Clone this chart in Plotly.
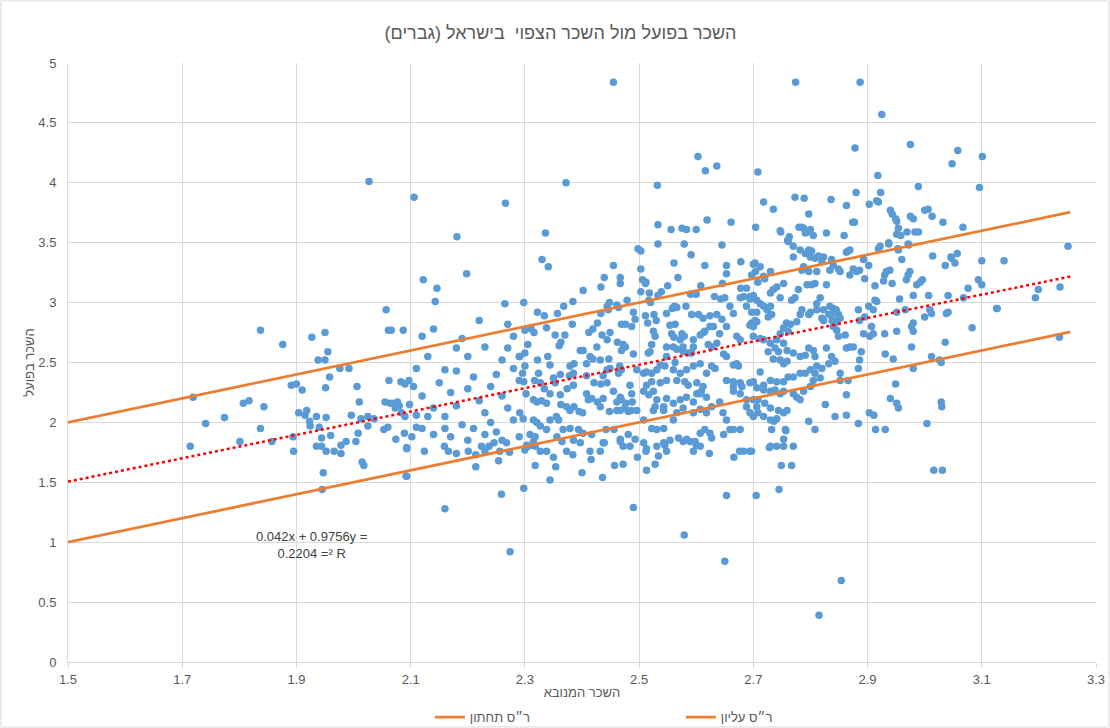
import plotly.graph_objects as go

points = [
    (1.837,2.77),(1.876,2.65),(1.927,2.71),(1.950,2.75),(1.955,2.59),(1.938,2.52),(1.950,2.52),(2.057,2.94),
    (2.061,2.77),(2.066,2.77),(2.087,2.77),(1.976,2.45),(1.992,2.45),(1.958,2.38),(1.951,2.29),(1.891,2.31),
    (1.900,2.32),(1.910,2.27),(1.719,2.21),(1.807,2.16),(1.817,2.18),(1.843,2.13),(1.741,1.99),(1.774,2.04),
    (1.837,1.95),(1.714,1.80),(1.801,1.84),(1.857,1.84),(1.894,1.88),(1.895,1.76),(1.904,2.08),(1.918,2.10),
    (1.915,2.06),(1.923,2.01),(1.924,1.97),(1.935,2.05),(1.952,2.04),(1.940,1.96),(1.944,1.87),(1.935,1.80),
    (1.944,1.80),(1.952,1.76),(1.960,1.89),(1.966,1.76),(1.978,1.74),(1.978,1.81),(1.987,1.84),(1.947,1.58),
    (1.945,1.44),(1.996,2.06),(2.006,2.30),(2.010,2.17),(2.004,1.84),(2.008,1.91),(2.015,1.67),(2.018,1.64),
    (2.013,2.03),(2.025,2.05),(2.025,1.97),(2.036,2.03),(2.053,1.94),(2.060,1.96),(2.055,2.17),(2.064,2.16),
    (2.070,2.16),(2.077,2.17),(2.073,2.12),(2.080,2.14),(2.062,2.35),(2.083,2.34),(2.090,2.32),(2.097,2.35),
    (2.105,2.30),(2.074,1.86),(2.089,1.91),(2.102,1.88),(2.093,1.79),(2.093,1.55),(2.084,2.08),(2.090,2.05),
    (2.098,2.15),(2.110,2.06),(2.110,1.96),
    (2.027,4.01),(2.106,3.88),(2.266,3.83),(2.181,3.55),(2.198,3.24),(2.122,3.19),(2.146,3.12),(2.143,3.01),
    (2.265,2.99),(2.298,3.00),(2.372,4.00),(2.455,4.84),(2.336,3.58),(2.330,3.36),(2.341,3.30),(2.402,3.10),
    (2.384,3.01),(2.368,2.97),(2.433,3.13),(2.439,3.21),(2.455,3.31),(2.467,3.21),(2.467,3.16),(2.479,3.02),
    (2.448,3.00),(2.498,3.45),(2.503,3.43),(2.503,3.28),(2.506,3.19),(2.511,3.16),(2.503,3.09),(2.518,3.08),
    (2.520,3.00),(2.532,3.98),(2.533,3.65),(2.533,3.49),(2.556,3.61),(2.575,3.62),(2.583,3.61),(2.600,3.61),
    (2.579,3.49),(2.591,3.40),(2.561,3.33),(2.568,3.21),(2.550,3.14),(2.539,3.09),(2.533,3.06),(2.603,4.22),
    (2.616,4.10),(2.636,4.14),(2.619,3.69),(2.661,3.67),(2.645,3.48),(2.615,3.31),(2.653,3.31),(2.653,3.24),
    (2.678,3.34),(2.700,3.32),(2.704,3.26),(2.704,3.63),(2.708,4.09),(2.608,3.14),(2.590,3.07),(2.600,3.07),
    (2.646,3.16),(2.632,3.05),(2.643,3.03),(2.650,3.04),(2.678,3.12),(2.688,3.12),(2.677,3.04),(2.683,3.05),
    (2.694,3.03),(2.700,3.06),(2.558,2.95),(2.562,2.97),(2.582,2.97),
    (2.512,3.17),(2.517,3.02),(2.444,2.97),(2.461,2.98),(2.464,2.96),(2.446,2.94),(2.433,2.91),(2.357,2.91),
    (2.322,2.92),(2.334,2.89),(2.300,2.77),(2.311,2.78),(2.316,2.75),(2.338,2.79),(2.353,2.73),(2.363,2.67),
    (2.360,2.64),(2.370,2.73),(2.383,2.82),(2.412,2.75),(2.419,2.78),(2.427,2.83),(2.435,2.73),(2.449,2.75),
    (2.444,2.69),(2.462,2.67),(2.469,2.82),(2.476,2.82),(2.476,2.63),(2.472,2.65),(2.469,2.60),(2.426,2.63),
    (2.397,2.60),(2.402,2.60),(2.305,2.65),(2.340,2.55),(2.291,2.55),(2.300,2.58),(2.322,2.52),(2.300,2.47),
    (2.296,2.41),(2.344,2.48),(2.386,2.49),(2.379,2.47),(2.414,2.55),(2.419,2.53),(2.408,2.49),(2.432,2.52),
    (2.447,2.53),(2.449,2.45),(2.466,2.47),(2.469,2.44),(2.464,2.41),(2.490,2.57),(2.385,2.41),(2.378,2.39),
    (2.408,2.39),(2.437,2.39),(2.444,2.44),(2.324,2.41),(2.317,2.35),(2.327,2.33),(2.350,2.37),(2.362,2.40),
    (2.334,2.28),(2.344,2.24),(2.353,2.33),(2.298,2.34),(2.302,2.24),(2.315,2.19),(2.321,2.17),(2.329,2.18),
    (2.338,2.16),(2.362,2.23),(2.374,2.28),(2.385,2.31),(2.363,2.15),(2.373,2.13),(2.379,2.10),(2.386,2.13),
    (2.395,2.09),(2.401,2.08),(2.408,2.24),(2.411,2.19),(2.417,2.20),(2.427,2.17),(2.437,2.20),(2.432,2.13),
    (2.421,2.33),(2.433,2.32),(2.444,2.33),(2.455,2.26),(2.461,2.17),(2.467,2.21),(2.469,2.19),(2.477,2.16),
    (2.448,2.09),(2.461,2.10),(2.467,2.10),(2.475,2.12),(2.481,2.09),(2.486,2.10),(2.484,2.31),(2.487,2.24),
    (2.488,2.17),(2.291,2.08),(2.297,2.03),(2.315,2.02),(2.321,2.00),(2.327,1.97),(2.338,1.94),(2.344,2.02),
    (2.355,2.05),(2.359,2.02),(2.367,1.94),(2.379,1.95),(2.394,1.94),(2.309,1.90),(2.318,1.88),(2.315,1.84),
    (2.303,1.81),(2.318,1.80),(2.356,1.88),(2.365,1.84),(2.385,1.85),(2.402,1.91),(2.417,1.90),(2.437,1.83),
    (2.442,1.94),(2.456,1.94),(2.467,1.86),(2.472,1.80),(2.484,1.80),(2.481,1.90),(2.493,1.86),
    (2.526,2.90),(2.511,2.89),(2.530,2.85),(2.515,2.83),(2.490,2.92),(2.493,2.86),(2.487,2.80),(2.548,2.91),
    (2.560,2.96),(2.566,2.96),(2.592,2.90),(2.604,2.90),(2.612,2.87),(2.624,2.89),(2.636,2.90),(2.645,2.86),
    (2.659,2.97),(2.665,2.91),(2.688,2.97),(2.697,2.92),(2.706,3.02),(2.706,2.84),(2.694,2.81),(2.700,2.80),
    (2.525,2.76),(2.528,2.72),(2.522,2.65),(2.519,2.59),(2.516,2.58),(2.554,2.81),(2.563,2.82),(2.557,2.74),
    (2.561,2.71),(2.575,2.74),(2.579,2.72),(2.572,2.69),(2.577,2.63),(2.548,2.63),(2.560,2.63),(2.566,2.61),
    (2.577,2.59),(2.586,2.58),(2.595,2.69),(2.595,2.63),(2.592,2.58),(2.607,2.73),(2.613,2.75),(2.615,2.76),
    (2.624,2.80),(2.630,2.80),(2.641,2.74),(2.653,2.80),(2.621,2.65),(2.627,2.63),(2.636,2.66),(2.648,2.57),
    (2.653,2.55),(2.671,2.72),(2.677,2.69),(2.671,2.49),(2.665,2.48),(2.674,2.47),(2.700,2.72),(2.496,2.44),
    (2.508,2.41),(2.513,2.42),(2.537,2.48),(2.548,2.55),(2.545,2.47),(2.563,2.50),(2.522,2.41),(2.531,2.44),
    (2.560,2.44),(2.572,2.41),(2.583,2.44),(2.595,2.47),(2.607,2.49),(2.618,2.41),(2.627,2.47),(2.633,2.45),
    (2.522,2.34),(2.513,2.31),(2.537,2.33),(2.548,2.35),(2.566,2.35),(2.580,2.34),(2.586,2.31),(2.601,2.33),
    (2.612,2.30),(2.609,2.26),(2.601,2.24),(2.618,2.21),(2.653,2.35),(2.665,2.34),(2.677,2.33),(2.680,2.30),
    (2.665,2.30),(2.694,2.33),(2.700,2.34),(2.665,2.26),(2.677,2.24),(2.688,2.19),(2.700,2.19),(2.708,2.19),
    (2.508,2.26),(2.517,2.23),(2.525,2.26),(2.531,2.19),(2.528,2.13),(2.543,2.13),(2.548,2.20),(2.560,2.16),
    (2.572,2.19),(2.583,2.21),(2.595,2.17),(2.607,2.24),(2.496,2.10),(2.508,2.02),(2.525,2.10),(2.543,2.10),
    (2.560,2.02),(2.566,2.08),(2.577,2.12),(2.595,2.08),(2.607,2.11),(2.618,2.08),(2.627,2.13),(2.641,2.17),
    (2.647,2.08),(2.653,2.02),(2.665,1.94),(2.677,1.94),(2.688,2.13),(2.694,2.08),(2.700,2.05),(2.708,2.08),
    (2.522,1.95),(2.531,1.94),(2.543,1.95),(2.554,1.85),(2.569,1.87),(2.583,1.86),(2.598,1.84),(2.607,1.91),
    (2.615,1.94),(2.624,1.91),(2.627,1.87),(2.648,1.90),(2.659,1.94),(2.513,1.78),(2.531,1.80),
    (2.718,3.84),(2.735,3.78),(2.785,3.63),(2.788,3.62),(2.794,3.59),(2.797,3.74),(2.791,3.58),(2.800,3.61),
    (2.805,3.56),(2.828,3.58),(2.859,3.56),(2.863,3.81),(2.903,3.82),(2.919,3.84),(2.748,3.59),(2.763,3.55),
    (2.760,3.52),(2.770,3.47),(2.782,3.44),(2.791,3.41),(2.797,3.44),(2.802,3.43),(2.800,3.38),(2.808,3.37),
    (2.814,3.39),(2.820,3.34),(2.823,3.38),(2.837,3.36),(2.840,3.31),(2.770,3.38),(2.785,3.27),(2.788,3.30),
    (2.797,3.26),(2.811,3.26),(2.834,3.27),(2.849,3.28),(2.852,3.26),(2.869,3.23),(2.875,3.28),(2.881,3.26),
    (2.886,3.27),(2.895,3.20),(2.893,3.36),(2.902,3.31),(2.863,3.42),(2.869,3.44),(2.866,3.43),(2.919,3.45),
    (2.922,3.47),(2.937,3.50),(2.951,3.57),(2.954,3.62),(2.969,3.59),(2.983,3.59),(2.972,3.48),(2.960,3.36),
    (2.954,3.44),(2.940,3.77),(2.943,3.74),(2.949,3.70),(2.951,3.68),(2.975,3.72),(2.980,3.70),(3.000,3.77),
    (3.006,3.78),(3.013,3.72),(3.032,3.67),(3.067,3.63),(3.014,3.39),(3.036,3.31),(3.047,3.37),(3.057,3.41),
    (3.053,3.33),(3.100,3.35),(2.933,3.26),(2.930,3.23),(2.939,3.27),(2.943,3.16),(2.971,3.23),(2.968,3.19),
    (2.974,3.26),(2.992,3.17),(2.996,3.19),(2.986,3.15),(2.913,3.14),(2.928,3.18),(2.956,3.03),(2.980,3.06),
    (3.007,3.06),(3.041,3.06),(3.068,3.04),(3.076,3.12),(3.094,3.19),(3.100,3.15),(2.913,3.02),(2.916,3.01),
    (2.910,2.94),(2.902,2.97),(2.884,2.94),(2.895,2.88),(2.886,2.85),(2.951,2.92),(2.966,2.94),(3.009,2.94),
    (3.000,2.88),(3.012,2.91),(3.038,2.91),(3.041,2.92),(2.980,2.83),(2.977,2.80),(2.980,2.76),(2.977,2.63),
    (2.951,2.76),(2.930,2.74),(2.907,2.80),(2.910,2.74),(2.904,2.72),(2.893,2.74),(3.083,2.79),(3.036,2.67),
    (3.126,2.95),(3.012,2.55),(3.026,2.52),(3.029,2.50),(2.980,2.45),(2.945,2.53),(2.931,2.57),(2.949,2.32),
    (2.940,2.20),(2.951,2.16),(2.954,2.12),(3.029,2.17),(3.030,2.13),(3.004,1.99),(2.903,2.08),(2.911,2.06),
    (2.914,1.94),(2.931,1.94),(2.884,2.45),(2.886,2.52),(2.889,2.59),(2.869,2.63),(2.875,2.63),(2.863,2.62),
    (2.861,2.73),(2.849,2.72),(2.846,2.77),(2.840,2.80),(2.847,2.85),(2.834,2.97),(2.840,2.95),(2.845,2.94),
    (2.849,2.90),(2.852,2.87),(2.847,2.91),(2.838,2.91),(2.832,2.90),(2.823,2.94),(2.820,2.87),(2.823,2.85),
    (2.838,2.85),(2.843,2.83),(2.811,2.99),(2.811,2.94),(2.800,2.92),(2.797,2.90),(2.785,2.94),(2.782,2.90),
    (2.776,2.84),(2.765,2.82),(2.758,2.83),(2.753,2.79),(2.747,2.74),(2.761,2.76),(2.730,2.97),(2.724,2.94),
    (2.718,2.97),(2.712,2.99),(2.732,2.90),(2.726,2.88),(2.706,2.92),(2.697,2.83),(2.703,2.85),(2.730,3.08),
    (2.735,3.11),(2.741,3.13),(2.747,3.04),(2.753,3.16),(2.694,3.05),(2.708,3.17),(2.720,3.20),(2.730,3.26),
    (2.718,3.22),(2.767,3.02),(2.773,3.04),(2.779,3.11),(2.794,3.15),(2.802,3.15),(2.808,3.16),(2.817,3.04),
    (2.828,3.15),(2.703,3.33),(2.712,3.30),(2.697,3.23),(2.712,2.70),(2.718,2.69),(2.730,2.66),(2.738,2.62),
    (2.741,2.69),(2.753,2.66),(2.759,2.60),(2.770,2.58),(2.782,2.55),(2.791,2.56),(2.797,2.62),(2.805,2.60),
    (2.808,2.55),(2.828,2.62),(2.837,2.55),(2.843,2.51),(2.832,2.49),(2.735,2.53),(2.747,2.52),(2.753,2.49),
    (2.759,2.51),(2.744,2.59),(2.726,2.59),(2.811,2.47),(2.820,2.45),(2.808,2.41),(2.800,2.44),(2.791,2.41),
    (2.782,2.41),(2.770,2.38),(2.761,2.38),(2.753,2.34),(2.741,2.34),(2.730,2.35),(2.718,2.31),(2.712,2.42),
    (2.805,2.35),(2.817,2.37),(2.852,2.41),(2.852,2.35),(2.866,2.35),(2.800,2.30),(2.788,2.26),(2.782,2.19),
    (2.776,2.21),(2.770,2.24),(2.753,2.26),(2.747,2.24),(2.738,2.27),(2.730,2.26),(2.718,2.27),(2.706,2.29),
    (2.706,2.13),(2.720,2.16),(2.730,2.12),(2.744,2.10),(2.759,2.10),(2.718,2.05),(2.730,2.02),(2.741,2.03),
    (2.753,2.08),(2.732,1.94),(2.756,1.94),(2.753,1.86),(2.797,2.01),(2.808,1.94),(2.826,2.15),(2.843,2.05),
    (2.863,2.23),(2.863,2.06),(2.884,1.99),(2.730,1.80),(2.741,1.80),(2.753,1.80),(2.770,1.80),
    (2.736,2.01),(2.757,1.93),(2.728,1.79),(2.697,1.76),(2.749,1.64),(2.767,1.64),(2.745,1.44),(2.705,1.39),
    (2.854,0.68),(2.815,0.39),(3.016,1.60),(3.031,1.60),
    (2.160,1.28),(2.259,1.40),(2.274,0.92),(2.298,1.45),(2.344,1.52),(2.436,1.54),(2.400,1.58),(2.490,1.29),
    (2.579,1.06),(2.650,0.84),(2.653,1.39),(2.092,1.55),(2.214,1.63),(2.254,1.68),(2.318,1.64),(2.354,1.63),
    (2.350,1.71),(2.416,1.69),(2.457,1.64),(2.472,1.65),(2.497,1.71),(2.513,1.60),(2.528,1.65),(2.534,1.72),
    (2.666,1.71),(2.676,1.76),(2.683,1.76),(2.694,1.76),(2.623,1.74),(2.595,1.76),(2.548,1.76),(2.545,1.81),
    (2.093,1.78),(2.124,1.76),(2.159,1.80),(2.166,1.76),(2.180,1.74),(2.201,1.76),(2.214,1.73),(2.224,1.80),
    (2.230,1.76),(2.237,1.80),(2.246,1.83),(2.256,1.76),(2.273,1.75),(2.268,1.83),(2.300,1.77),(2.306,1.80),
    (2.315,1.81),(2.327,1.76),(2.338,1.76),(2.373,1.76),(2.384,1.73),(2.397,1.83),(2.414,1.76),(2.432,1.76),
    (2.439,1.83),(2.467,1.84),(2.508,1.83),(2.512,1.76),(2.543,1.83),(2.577,1.84),(2.589,1.84),(2.600,1.81),
    (2.607,1.80),
    (2.774,4.84),(2.887,4.84),(2.925,4.57),(2.878,4.29),(2.975,4.32),(3.058,4.27),(3.048,4.16),(3.101,4.22),
    (2.918,4.06),(2.989,3.97),(3.096,3.96),(2.880,3.92),(2.923,3.92),(2.916,3.85),(2.773,3.88),(2.789,3.87),
    (2.836,3.86),(2.747,3.60),(2.761,3.51),(2.780,3.63),(2.874,3.67),(2.877,3.67),(2.958,3.56),(2.989,3.59),
    (2.937,3.49),(2.953,3.45),(2.971,3.49),(3.046,3.38),
    (3.139,3.35),(3.251,3.47),(3.199,3.11),(3.194,3.04),(3.237,3.13),(3.127,2.95),(3.236,2.71),
    (2.12,2.72),(2.14,2.78),(2.13,2.55),(2.16,2.44),(2.18,2.43),(2.15,2.33),(2.17,2.25),(2.12,2.22),
    (2.14,2.12),(2.16,2.05),(2.18,2.14),(2.19,1.98),(2.12,1.95),(2.14,1.90),(2.17,1.88),(2.20,2.28),
    (2.21,2.38),(2.22,2.18),(2.23,2.08),(2.21,1.95),(2.24,2.30),(2.25,2.40),(2.26,2.22),(2.24,2.00),
    (2.25,1.92),(2.27,2.62),(2.28,2.72),(2.27,2.82),(2.26,2.52),(2.28,2.45),(2.29,2.35),(2.27,2.12),
    (2.28,2.02),(2.29,1.88),(2.23,2.63),(2.20,2.55),(2.18,2.62),(2.22,2.85),(2.19,2.70),(2.11,2.45),
    (2.13,2.05),(2.20,1.85),(2.23,1.90),(2.26,1.85),(2.16,1.95),(2.29,2.55),
]
x_pred = [p[0] for p in points]
y_actual = [p[1] for p in points]

# Excel trendline (from the chart label) and the +/-0.5 bands
trend_slope = 0.9756
trend_intercept = 0.042
r_squared = 0.2204
band_offset = 0.5
line_x = [1.5, 3.255]

x_ticks = [1.5, 1.7, 1.9, 2.1, 2.3, 2.5, 2.7, 2.9, 3.1, 3.3]
y_ticks = [0, 0.5, 1, 1.5, 2, 2.5, 3, 3.5, 4, 4.5, 5]

title_text = "השכר בפועל מול השכר הצפוי  בישראל (גברים)\u200f"
x_title = "השכר המנובא"
y_title = "השכר בפועל"
upper_name = "ר״ס עליון"
lower_name = "ר״ס תחתון"

FONT = "Liberation Sans, DejaVu Sans, Arial, sans-serif"
GRAY = "#595959"
GRID = "#D9D9D9"

fig = go.Figure()
fig.add_trace(go.Scatter(
    x=x_pred, y=y_actual, mode="markers",
    marker=dict(color="#5B9BD5", size=7.5, line=dict(width=0)),
    showlegend=False, hoverinfo="x+y"))
fig.add_trace(go.Scatter(
    x=line_x, y=[trend_slope * v + trend_intercept for v in line_x], mode="lines",
    line=dict(color="#FF0000", width=2.5, dash="dot"), showlegend=False))
fig.add_trace(go.Scatter(
    x=line_x, y=[v - band_offset for v in line_x], mode="lines", name=lower_name,
    line=dict(color="#ED7D31", width=2.75)))
fig.add_trace(go.Scatter(
    x=line_x, y=[v + band_offset for v in line_x], mode="lines", name=upper_name,
    line=dict(color="#ED7D31", width=2.75)))

fig.add_annotation(
    x=1.927, y=0.975, xref="x", yref="y", showarrow=False,
    text=f"{trend_intercept}x + {trend_slope}y =<br>{r_squared} =² R",
    font=dict(family=FONT, size=13, color="#404040"), align="center")

fig.add_shape(type="rect", xref="paper", yref="paper",
              x0=-0.0652, x1=1.0127, y0=-0.1085, y1=1.1035,
              line=dict(color=GRID, width=1))

fig.update_layout(
    width=1110, height=728,
    margin=dict(l=68, r=14, t=63, b=66, autoexpand=False),
    paper_bgcolor="white", plot_bgcolor="white",
    font=dict(family=FONT, color=GRAY, size=13),
    title=dict(text=title_text, x=0.505, xanchor="center", y=0.955, yanchor="middle",
               font=dict(family=FONT, size=18, color=GRAY)),
    legend=dict(orientation="h", x=0.352, xanchor="left", y=-0.092, yanchor="middle",
                entrywidth=206, entrywidthmode="pixels",
                font=dict(family=FONT, size=13, color=GRAY), bgcolor="rgba(0,0,0,0)"),
    xaxis=dict(range=[1.5, 3.3], tickvals=x_ticks, showgrid=True, gridcolor=GRID, gridwidth=1,
               zeroline=False, showline=True, linecolor=GRID, linewidth=1,
               ticks="outside", ticklen=5, tickcolor=GRID,
               tickfont=dict(family=FONT, size=13, color=GRAY),
               title=dict(text=x_title, standoff=2, font=dict(family=FONT, size=13, color=GRAY))),
    yaxis=dict(range=[0, 5], tickvals=y_ticks, showgrid=True, gridcolor=GRID, gridwidth=1,
               zeroline=False, showline=True, linecolor=GRID, linewidth=1,
               ticks="", ticklabelstandoff=8,
               tickfont=dict(family=FONT, size=13, color=GRAY),
               title=dict(text=y_title, standoff=0, font=dict(family=FONT, size=13, color=GRAY))),
)

fig.write_html("out.html")
